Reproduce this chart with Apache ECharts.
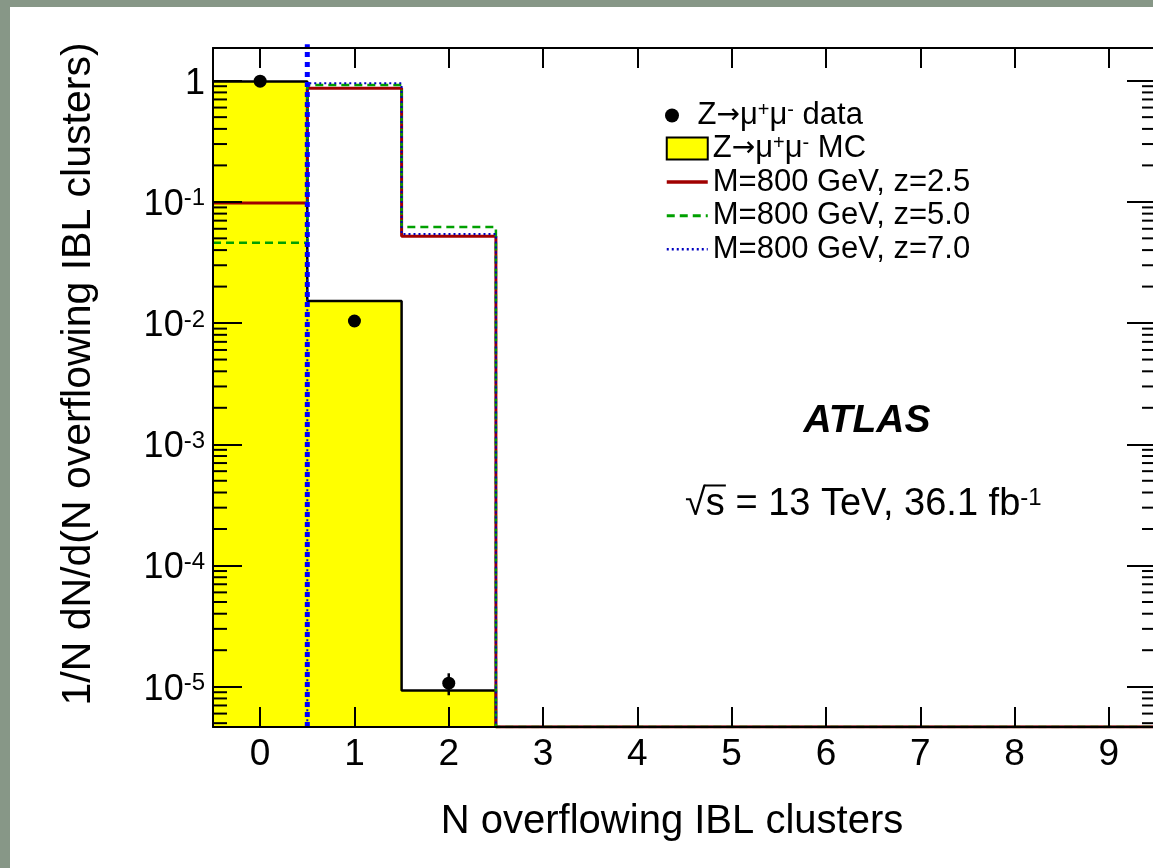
<!DOCTYPE html>
<html>
<head>
<meta charset="utf-8">
<title>N overflowing IBL clusters</title>
<script src="https://cdn.jsdelivr.net/npm/echarts@6.0.0/dist/echarts.min.js"></script>
<style>
  html, body { margin: 0; padding: 0; background: #ffffff; }
  #chart { width: 1153px; height: 868px; }
</style>
</head>
<body>
<div id="chart"></div>
<script>
// ---- binning: number of overflowing IBL clusters, one bin per integer ----
const nClusters = [0, 1, 2, 3, 4, 5, 6, 7, 8, 9];

// ---- normalised distributions 1/N dN/dn (0 = empty bin) ----
const dataValues = [0.99, 0.0104, 1.07e-5, 0, 0, 0, 0, 0, 0, 0];
const dataErrors = [0.0003, 0.0003, 2.2e-6, 0, 0, 0, 0, 0, 0, 0];
const mcValues   = [0.985, 0.0152, 9.3e-6, 0, 0, 0, 0, 0, 0, 0];
const sigZ25     = [0.098, 0.865, 0.052, 0, 0, 0, 0, 0, 0, 0];
const sigZ50     = [0.046, 0.92, 0.062, 0, 0, 0, 0, 0, 0, 0];
const sigZ70     = [0, 0.952, 0.0543, 0, 0, 0, 0, 0, 0, 0];

// vertical selection line at n = 0.5, spanning the full y range
const cutX = 0.5;
const cutTop = 2.0;

// ---- axis ranges and log tick structure ----
const xMin = -0.5, xMax = 9.5;
const yMin = 4.65e-6, yMax = 1.86;
const minorDecades = [-6, -5, -4, -3, -2, -1, 0];
const minorMultipliers = [2, 3, 4, 5, 6, 7, 8, 9];

const FONT = '"Liberation Sans", Arial, Helvetica, sans-serif';
const ARROW_FONT = '"DejaVu Sans", sans-serif';

const names = {
  data: 'Z→μ+μ- data',
  mc: 'Z→μ+μ- MC',
  z25: 'M=800 GeV, z=2.5',
  z50: 'M=800 GeV, z=5.0',
  z70: 'M=800 GeV, z=7.0'
};

// histogram outline: flat top across each bin, empty bins sit on the axis floor
function stepPoints(vals) {
  const pts = [];
  vals.forEach(function (v, i) {
    const y = Math.max(v, yMin);
    pts.push([nClusters[i] - 0.5, y], [nClusters[i] + 0.5, y]);
  });
  return pts;
}

const dataPoints = [];
const dataErrorBars = [];
dataValues.forEach(function (v, i) {
  if (v > 0) {
    dataPoints.push([nClusters[i], v]);
    dataErrorBars.push([nClusters[i], v, dataErrors[i]]);
  }
});

const minorTicks = [];
minorDecades.forEach(function (e) {
  minorMultipliers.forEach(function (m) {
    const v = m * Math.pow(10, e);
    if (v > yMin && v < yMax) minorTicks.push([xMin, v]);
  });
});

function logLabel(v) {
  const e = Math.log10(v);
  const r = Math.round(e);
  if (Math.abs(e - r) > 1e-6) return '';
  if (r === 0) return '{n|1}';
  return '{n|10}{s|' + r + '}';
}

// √s annotation: place the overbar above the "s" following the radical
const mctx = document.createElement('canvas').getContext('2d');
mctx.font = '38px "Liberation Sans"';
mctx.textBaseline = 'middle';
const radM = mctx.measureText('√');
const wRad = radM.width;
const wS = mctx.measureText('s').width;
const radAsc = radM.actualBoundingBoxAscent || 28;

const axisLineStyle = { color: '#000', width: 2 };

const legendRich = {
  t: { fontSize: 31, lineHeight: 30, fontFamily: FONT, color: '#000' },
  a: { fontSize: 28, lineHeight: 30, fontFamily: ARROW_FONT, color: '#000' },
  p: { fontSize: 20, lineHeight: 16, verticalAlign: 'top', fontFamily: FONT, color: '#000' }
};
const hiddenSymbol = { color: 'rgba(0,0,0,0)', borderColor: 'rgba(0,0,0,0)', borderWidth: 0, opacity: 0 };

const chart = echarts.init(document.getElementById('chart'), null, { renderer: 'canvas' });

chart.setOption({
  backgroundColor: '#ffffff',
  animation: false,
  grid: {
    left: 213, top: 48, width: 943, height: 679,
    containLabel: false, outerBoundsMode: 'none'
  },
  xAxis: [
    {
      type: 'value', min: xMin, max: xMax, splitNumber: 10, position: 'bottom', z: 5,
      axisLine: { show: true, onZero: false, lineStyle: axisLineStyle },
      axisTick: { show: true, inside: true, length: 20, lineStyle: axisLineStyle },
      axisLabel: {
        show: true, margin: 9, color: '#000', fontSize: 37, fontFamily: FONT,
        formatter: function (v) { return Number.isInteger(v) ? String(v) : ''; }
      },
      splitLine: { show: false }
    },
    {
      type: 'value', min: xMin, max: xMax, splitNumber: 10, position: 'top', z: 5,
      axisLine: { show: true, onZero: false, lineStyle: axisLineStyle },
      axisTick: { show: true, inside: true, length: 20, lineStyle: axisLineStyle },
      axisLabel: { show: false },
      splitLine: { show: false }
    }
  ],
  yAxis: [
    {
      type: 'log', logBase: 10, min: yMin, max: yMax, position: 'left', z: 5,
      axisLine: { show: true, onZero: false, lineStyle: axisLineStyle },
      axisTick: { show: true, inside: true, length: 29, lineStyle: axisLineStyle },
      minorTick: { show: false },
      axisLabel: {
        show: true, margin: 8, padding: [6, 0, 0, 0],
        formatter: logLabel,
        rich: {
          n: { fontSize: 36, lineHeight: 36, fontFamily: FONT, color: '#000' },
          s: { fontSize: 24, lineHeight: 20, verticalAlign: 'top', fontFamily: FONT, color: '#000' }
        }
      },
      splitLine: { show: false }
    },
    {
      type: 'log', logBase: 10, min: yMin, max: yMax, position: 'right', z: 5,
      axisLine: { show: true, onZero: false, lineStyle: axisLineStyle },
      axisTick: { show: true, inside: true, length: 29, lineStyle: axisLineStyle },
      minorTick: { show: false },
      axisLabel: { show: false },
      splitLine: { show: false }
    }
  ],
  legend: [
    {
      data: [{ name: names.data, icon: 'circle', itemStyle: { color: '#000', opacity: 1 } }],
      orient: 'vertical', left: 665, top: 100, padding: 0,
      itemWidth: 41, itemHeight: 14, selectedMode: false,
      formatter: function () { return '{t|Z}{a|→}{t|μ}{p|+}{t|μ}{p|-}{t| data}'; },
      textStyle: { color: '#000', fontFamily: FONT, fontSize: 31, lineHeight: 30, rich: legendRich }
    },
    {
      data: [
        { name: names.mc, icon: 'rect', itemStyle: { color: '#ffff00', borderColor: '#000', borderWidth: 2, opacity: 1 } },
        { name: names.z25, itemStyle: hiddenSymbol, lineStyle: { width: 3.5 } },
        { name: names.z50, itemStyle: hiddenSymbol, lineStyle: { width: 3 } },
        { name: names.z70, itemStyle: hiddenSymbol, lineStyle: { width: 2.5 } }
      ],
      orient: 'vertical', left: 665, top: 133, padding: 0,
      itemWidth: 41, itemHeight: 22, itemGap: 2.6, selectedMode: false,
      formatter: function (name) {
        if (name === names.mc) return '{t|Z}{a|→}{t|μ}{p|+}{t|μ}{p|-}{t| MC}';
        return '{t|' + name + '}';
      },
      textStyle: { color: '#000', fontFamily: FONT, fontSize: 31, lineHeight: 30, rich: legendRich }
    }
  ],
  series: [
    {
      name: names.mc, type: 'line', data: stepPoints(mcValues),
      symbol: 'none', showSymbol: false, z: 1,
      lineStyle: { color: '#000', width: 2.5 },
      itemStyle: { color: '#ffff00' },
      areaStyle: { color: '#ffff00', opacity: 1, origin: 'start' }
    },
    {
      name: names.z25, type: 'line', data: stepPoints(sigZ25),
      symbol: 'none', showSymbol: false, z: 2,
      lineStyle: { color: '#a00000', width: 3 },
      itemStyle: { color: '#a00000' }
    },
    {
      name: names.z50, type: 'line', data: stepPoints(sigZ50),
      symbol: 'none', showSymbol: false, z: 2,
      lineStyle: { color: '#00a000', width: 2.5, type: [8, 5] },
      itemStyle: { color: '#00a000' }
    },
    {
      name: names.z70, type: 'line', data: stepPoints(sigZ70),
      symbol: 'none', showSymbol: false, z: 3,
      lineStyle: { color: '#0000c0', width: 2, type: [2, 3] },
      itemStyle: { color: '#0000c0' }
    },
    {
      name: 'cut', type: 'line', data: [[cutX, yMin], [cutX, cutTop]],
      symbol: 'none', showSymbol: false, z: 3, clip: false, silent: true,
      lineStyle: { color: '#0000ff', width: 5, type: [5, 5] }
    },
    {
      name: names.data, type: 'scatter', data: dataPoints,
      symbol: 'circle', symbolSize: 13, z: 6,
      itemStyle: { color: '#000', opacity: 1 }
    },
    {
      name: 'data errors', type: 'custom', data: dataErrorBars, z: 6, silent: true,
      renderItem: function (params, api) {
        const x = api.value(0), v = api.value(1), e = api.value(2);
        const lo = api.coord([x, Math.max(v - e, yMin)]);
        const hi = api.coord([x, v + e]);
        return {
          type: 'line',
          shape: { x1: lo[0], y1: lo[1], x2: hi[0], y2: hi[1] },
          style: { stroke: '#000', lineWidth: 2.5 }
        };
      }
    },
    {
      name: 'minor ticks', type: 'custom', data: minorTicks, z: 7, silent: true, clip: false,
      renderItem: function (params, api) {
        const v = api.value(1);
        const l = api.coord([xMin, v]);
        const r = api.coord([xMax, v]);
        return {
          type: 'group',
          children: [
            { type: 'line', shape: { x1: l[0], y1: l[1], x2: l[0] + 14, y2: l[1] }, style: { stroke: '#000', lineWidth: 2 } },
            { type: 'line', shape: { x1: r[0], y1: r[1], x2: r[0] - 14, y2: r[1] }, style: { stroke: '#000', lineWidth: 2 } }
          ]
        };
      }
    }
  ],
  graphic: [
    { type: 'rect', z: 100, shape: { x: 0, y: 0, width: 10, height: 868 }, style: { fill: '#879787' } },
    { type: 'rect', z: 100, shape: { x: 0, y: 0, width: 1153, height: 7 }, style: { fill: '#879787' } },
    {
      type: 'text', x: 672, y: 822, z: 50,
      style: { text: 'N overflowing IBL clusters', fontSize: 40, fontFamily: FONT, fill: '#000', align: 'center', verticalAlign: 'middle' }
    },
    {
      type: 'text', x: 79, y: 374, rotation: Math.PI / 2, z: 50,
      style: { text: '1/N dN/d(N overflowing IBL clusters)', fontSize: 41, fontFamily: FONT, fill: '#000', align: 'center', verticalAlign: 'middle' }
    },
    {
      type: 'text', x: 867, y: 421, z: 50,
      style: { text: 'ATLAS', fontSize: 39, fontWeight: 'bold', fontStyle: 'italic', fontFamily: FONT, fill: '#000', align: 'center', verticalAlign: 'middle' }
    },
    {
      type: 'group', x: 685, y: 505, z: 50,
      children: [
        {
          type: 'text', x: 0, y: 0,
          style: {
            text: '{n|√s = 13 TeV, 36.1 fb}{p|-1}', align: 'left', verticalAlign: 'middle',
            rich: {
              n: { fontSize: 38, lineHeight: 38, fontFamily: FONT, fill: '#000' },
              p: { fontSize: 24, lineHeight: 22, verticalAlign: 'top', fontFamily: FONT, fill: '#000' }
            }
          }
        },
        {
          type: 'line',
          shape: { x1: wRad - 2, y1: -radAsc + 1, x2: wRad + wS + 1, y2: -radAsc + 1 },
          style: { stroke: '#000', lineWidth: 2 }
        }
      ]
    }
  ]
});
</script>
</body>
</html>
